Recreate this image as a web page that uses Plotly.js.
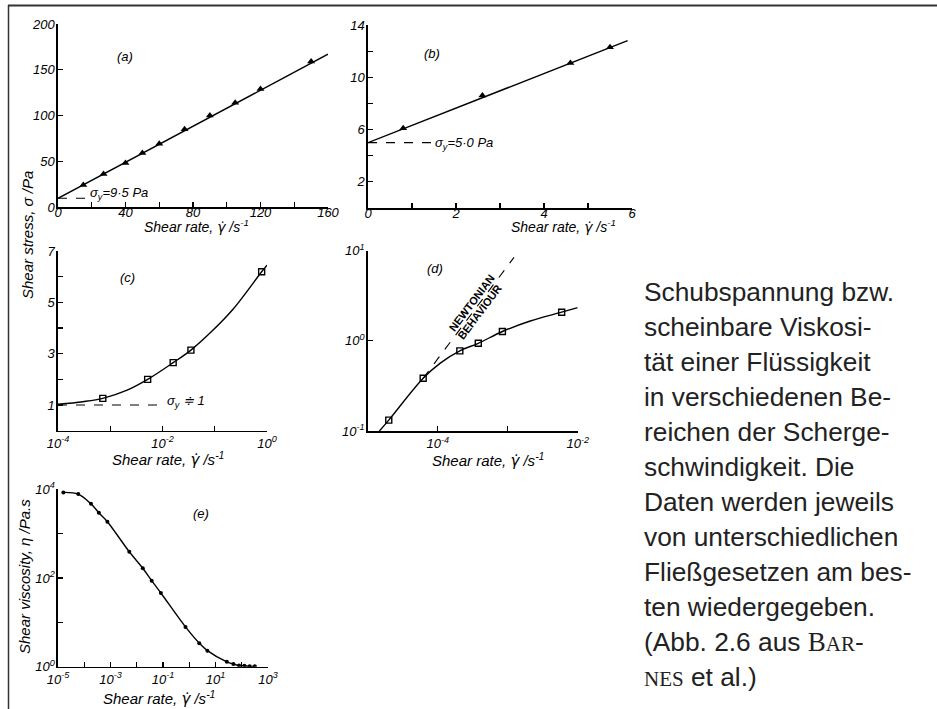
<!DOCTYPE html>
<html><head><meta charset="utf-8">
<script src="https://cdn.plot.ly/plotly-3.0.1.min.js"></script>
<style>html,body{margin:0;padding:0;background:#fff;}#chart{width:937px;height:709px;}</style>
</head><body><div id="chart"></div>
<script>
// ---- data ----
// (a)
const aRate = [15, 27, 40, 50, 60, 75, 90, 105, 120, 150];
const aStress = [24, 36, 48, 59, 69, 85, 100, 114, 129, 159];
const aFitRate = [0, 160];
const aFitStress = [9.5, 167];
const aYieldRate = [0, 20.5];
const aYieldStress = [9.5, 9.5];
// (b)
const bRate = [0.8, 2.6, 4.6, 5.5];
const bStress = [6.1, 8.6, 11.1, 12.3];
const bFitRate = [0, 5.9];
const bFitStress = [5.0, 12.8];
const bYieldRate = [0, 1.45];
const bYieldStress = [5.0, 5.0];
// (c)
const cRate = [7.2e-4, 5.2e-3, 1.6e-2, 3.5e-2, 0.79];
const cStress = [1.26, 2.0, 2.65, 3.14, 6.19];
const cFitRate = [1e-4, 3e-4, 7.2e-4, 2.1e-3, 5.2e-3, 1.6e-2, 3.5e-2, 9.3e-2, 0.23, 0.79, 1.0];
const cFitStress = [1.03, 1.13, 1.26, 1.58, 2.0, 2.65, 3.14, 3.92, 4.76, 6.19, 6.45];
const cYieldRate = [1e-4, 1.02e-2];
const cYieldStress = [1, 1];
// (d)
const dRate = [2.0e-5, 6.2e-5, 2.07e-4, 3.8e-4, 8.4e-4, 5.9e-3];
const dStress = [0.132, 0.385, 0.775, 0.94, 1.27, 2.08];
const dFitRate = [1.47e-5, 2.0e-5, 6.2e-5, 1.1e-4, 2.07e-4, 3.8e-4, 8.4e-4, 2.1e-3, 5.9e-3, 1e-2];
const dFitStress = [0.1, 0.132, 0.385, 0.57, 0.775, 0.94, 1.27, 1.66, 2.08, 2.34];
const dNewtonRate = [6.2e-5, 1.23e-3];
const dNewtonStress = [0.385, 8.43];
// (e)
const eRate = [1.6e-5, 5.9e-5, 1.8e-4, 3.6e-4, 7.6e-4, 5.2e-3, 1.7e-2, 3.7e-2, 8.3e-2, 0.72, 2.4, 4.9, 27, 48, 79, 126, 200, 316];
const eVisc = [8500, 7800, 4700, 2950, 1860, 390, 166, 87, 46, 7.9, 3.4, 2.3, 1.29, 1.15, 1.07, 1.05, 1.02, 1.02];

// tick values / labels
const aXTicks = [0, 20, 40, 60, 80, 100, 120, 140, 160];
const aXText = ['0', '', '40', '', '80', '', '120', '', '160'];
const aYTicks = [0, 50, 100, 150, 200];
const aYText = ['0', '50', '100', '150', '200'];
const bXTicks = [0, 1, 2, 3, 4, 5, 6];
const bXText = ['0', '', '2', '', '4', '', '6'];
const bYTicks = [2, 4, 6, 8, 10, 12, 14];
const bYText = ['2', '', '6', '', '10', '', '14'];
const cXTicks = [1e-4, 1e-3, 1e-2, 1e-1, 1];
const cXText = ['10<sup>-4</sup>', '', '10<sup>-2</sup>', '', '10<sup>0</sup>'];
const cYTicks = [1, 2, 3, 4, 5, 6, 7];
const cYText = ['1', '', '3', '', '5', '', '7'];
const dXTicks = [1e-5, 1e-4, 1e-3, 1e-2];
const dXText = ['', '10<sup>-4</sup>', '', '10<sup>-2</sup>'];
const dYTicks = [0.1, 1, 10];
const dYText = ['10<sup>-1</sup>', '10<sup>0</sup>', '10<sup>1</sup>'];
const eXTicks = [1e-5, 1e-4, 1e-3, 1e-2, 1e-1, 1, 10, 100, 1000];
const eXText = ['10<sup>-5</sup>', '', '10<sup>-3</sup>', '', '10<sup>-1</sup>', '', '10<sup>1</sup>', '', '10<sup>3</sup>'];
const eYTicks = [1, 10, 100, 1000, 10000];
const eYText = ['10<sup>0</sup>', '', '10<sup>2</sup>', '', '10<sup>4</sup>'];

const captionLines = [
  'Schubspannung bzw.',
  'scheinbare Viskosi-',
  't\u00e4t einer Fl\u00fcssigkeit',
  'in verschiedenen Be-',
  'reichen der Scherge-',
  'schwindigkeit. Die',
  'Daten werden jeweils',
  'von unterschiedlichen',
  'Flie\u00dfgesetzen am bes-',
  'ten wiedergegeben.',
  '(Abb. 2.6 aus <span style="font-family:Liberation Serif;font-size:27px">B</span><span style="font-family:Liberation Serif;font-size:21px">AR</span>-',
  '<span style="font-family:Liberation Serif;font-size:21px">NES</span> et al.)'
];

// ---- layout helpers (pixel -> paper) ----
const W = 937, H = 709;
const px = x => x / W;
const py = y => 1 - y / H;
const FONT = 'Liberation Sans, Arial, sans-serif';
const tickFont = {family: FONT, size: 13, color: '#000', style: 'italic'};

function axis(d0, d1, isY, range, type, vals, text, anchor) {
  return {
    domain: isY ? [py(d1), py(d0)] : [px(d0), px(d1)],
    range: range, type: type, anchor: anchor,
    tickmode: 'array', tickvals: vals, ticktext: text,
    ticks: 'inside', ticklen: 5, tickwidth: 1.2, tickcolor: '#000',
    showline: true, linecolor: '#000', linewidth: 1.6,
    showgrid: false, zeroline: false, tickfont: tickFont,
    ticklabelstandoff: isY ? -1 : (type === 'log' ? 0 : -7),
    fixedrange: true
  };
}

const lineStyle = {color: '#000', width: 1.4};
const dashStyle = {color: '#000', width: 1.1, dash: 'dash'};
const tri = {symbol: 'triangle-up', size: 7, color: '#000'};
const sq = {symbol: 'square-open', size: 6, color: '#000', line: {width: 1.4, color: '#000'}};
const dot = {symbol: 'circle', size: 4, color: '#000'};

const traces = [
  {x: aFitRate, y: aFitStress, mode: 'lines', line: lineStyle, xaxis: 'x', yaxis: 'y'},
  {x: aYieldRate, y: aYieldStress, mode: 'lines', line: dashStyle, xaxis: 'x', yaxis: 'y'},
  {x: aRate, y: aStress, mode: 'markers', marker: tri, xaxis: 'x', yaxis: 'y'},

  {x: bFitRate, y: bFitStress, mode: 'lines', line: lineStyle, xaxis: 'x2', yaxis: 'y2'},
  {x: bYieldRate, y: bYieldStress, mode: 'lines', line: dashStyle, xaxis: 'x2', yaxis: 'y2'},
  {x: bRate, y: bStress, mode: 'markers', marker: tri, xaxis: 'x2', yaxis: 'y2'},

  {x: cFitRate, y: cFitStress, mode: 'lines', line: Object.assign({shape: 'spline'}, lineStyle), xaxis: 'x3', yaxis: 'y3'},
  {x: cYieldRate, y: cYieldStress, mode: 'lines', line: dashStyle, xaxis: 'x3', yaxis: 'y3'},
  {x: cRate, y: cStress, mode: 'markers', marker: sq, xaxis: 'x3', yaxis: 'y3'},

  {x: dFitRate, y: dFitStress, mode: 'lines', line: Object.assign({shape: 'spline'}, lineStyle), xaxis: 'x4', yaxis: 'y4'},
  {x: dNewtonRate, y: dNewtonStress, mode: 'lines', line: dashStyle, xaxis: 'x4', yaxis: 'y4'},
  {x: dRate, y: dStress, mode: 'markers', marker: sq, xaxis: 'x4', yaxis: 'y4'},

  {x: eRate, y: eVisc, mode: 'lines+markers', line: Object.assign({shape: 'spline'}, lineStyle), marker: dot, xaxis: 'x5', yaxis: 'y5'}
];

function ann(x, y, text, opts) {
  return Object.assign({
    xref: 'paper', yref: 'paper', x: px(x), y: py(y), text: text, showarrow: false,
    xanchor: 'center', yanchor: 'middle',
    font: {family: FONT, size: 15, color: '#000', style: 'italic'}
  }, opts || {});
}
const gammaDot = '<span style="font-family:DejaVu Sans">\u03b3\u0307</span>';
const rateTitle = 'Shear rate, ' + gammaDot + ' /s<sup>-1</sup>';
const smallItalic = {family: FONT, size: 13, color: '#000', style: 'italic'};
const titleTop = {family: FONT, size: 14, color: '#000', style: 'italic'};
const annotations = [
  ann(196, 226, rateTitle, {font: titleTop}),
  ann(563, 226, rateTitle, {font: titleTop}),
  ann(168, 459, rateTitle),
  ann(488, 460, rateTitle),
  ann(159, 698, rateTitle),
  ann(28, 235, 'Shear stress, \u03c3 /Pa', {textangle: -90}),
  ann(24, 577, 'Shear viscosity, \u03b7 /Pa.s', {textangle: -90}),
  ann(125, 57, '(a)', {font: smallItalic}),
  ann(432, 54, '(b)', {font: smallItalic}),
  ann(127, 277, '(c)', {font: smallItalic}),
  ann(435, 268, '(d)', {font: smallItalic}),
  ann(201, 513, '(e)', {font: smallItalic}),
  ann(88, 193, '\u03c3<sub>y</sub>=9\u00b75 Pa', {xanchor: 'left', font: smallItalic}),
  ann(433, 143, '\u03c3<sub>y</sub>=5\u00b70 Pa', {xanchor: 'left', font: smallItalic}),
  ann(165, 401, '\u03c3<sub>y</sub> \u2251 1', {xanchor: 'left', font: smallItalic}),
  ann(471.5, 303, 'NEWTONIAN', {textangle: -53, font: {family: FONT, size: 11, color: '#000', weight: 'bold'}}),
  ann(479.5, 312, 'BEHAVIOUR', {textangle: -53, font: {family: FONT, size: 11, color: '#000', weight: 'bold'}})
];
captionLines.forEach((t, i) => {
  annotations.push(ann(642, 292 + i * 35.0, t, {xanchor: 'left',
    font: {family: FONT, size: 26.3, color: '#222'}}));
});

const shapes = [
  {type: 'line', xref: 'paper', yref: 'paper', x0: px(8), x1: px(937), y0: py(5.5), y1: py(5.5), line: {color: '#333', width: 2}},
  {type: 'line', xref: 'paper', yref: 'paper', x0: px(8.5), x1: px(8.5), y0: py(5), y1: py(709), line: {color: '#333', width: 1.5}}
];

const layout = {
  width: W, height: H, margin: {l: 0, r: 0, t: 0, b: 0},
  paper_bgcolor: '#fff', plot_bgcolor: 'rgba(0,0,0,0)',
  showlegend: false, font: {family: FONT, color: '#000'},
  xaxis: axis(58, 328, false, [0, 160], 'linear', aXTicks, aXText, 'y'),
  yaxis: axis(24, 207, true, [0, 200], 'linear', aYTicks, aYText, 'x'),
  xaxis2: axis(368, 632, false, [0, 6], 'linear', bXTicks, bXText, 'y2'),
  yaxis2: axis(25, 208, true, [0, 14], 'linear', bYTicks, bYText, 'x2'),
  xaxis3: axis(58, 267, false, [-4, 0], 'log', cXTicks, cXText, 'y3'),
  yaxis3: axis(251, 430.7, true, [0, 7], 'linear', cYTicks, cYText, 'x3'),
  xaxis4: axis(367.7, 577.7, false, [-5, -2], 'log', dXTicks, dXText, 'y4'),
  yaxis4: axis(250.7, 431, true, [-1, 1], 'log', dYTicks, dYText, 'x4'),
  xaxis5: axis(58, 268, false, [-5, 3], 'log', eXTicks, eXText, 'y5'),
  yaxis5: axis(489.3, 666.7, true, [0, 4], 'log', eYTicks, eYText, 'x5'),
  annotations: annotations, shapes: shapes
};

Plotly.newPlot('chart', traces, layout, {staticPlot: true, displayModeBar: false});
</script></body></html>
